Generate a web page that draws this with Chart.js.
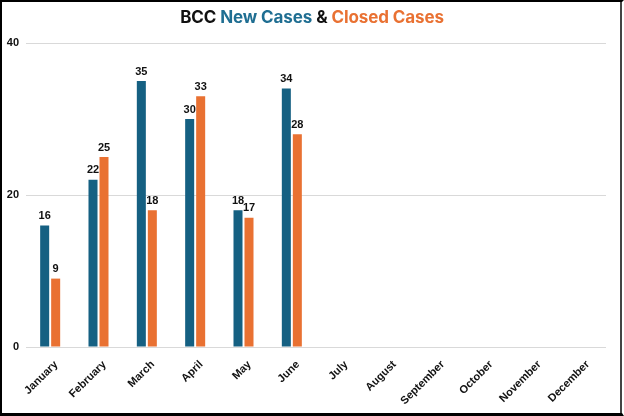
<!DOCTYPE html>
<html>
<head>
<meta charset="utf-8">
<script src="https://cdn.jsdelivr.net/npm/chart.js@4/dist/chart.umd.min.js"></script>
<style>
    html, body { margin: 0; padding: 0; background: #fff; }
    #wrap { position: relative; width: 624px; height: 416px; overflow: hidden; }
    #chart { position: absolute; left: 0; top: 0; }
    #title {
        position: absolute; left: 0; top: 7px; width: 624px;
        text-align: center; font: bold 17px Inter, sans-serif; color: #111;
        letter-spacing: -0.1px;
    }
    #title .new { color: #1f6e92; }
    #title .closed { color: #e97132; }
    #frame {
        position: absolute; left: 0; top: 0; width: 624px; height: 416px;
        box-sizing: border-box; pointer-events: none;
        border-top: 2px solid #000; border-left: 2px solid #000;
        border-bottom: 3px solid #000; border-right: 2px solid #fff;
    }
    #frame::after {
        content: ''; position: absolute; right: 0; top: 0; bottom: 0;
        width: 2px; background: #444;
    }
</style>
</head>
<body>
<div id="wrap">
    <canvas id="chart" width="624" height="416"></canvas>
    <div id="title">BCC <span class="new">New Cases</span> &amp; <span class="closed">Closed Cases</span></div>
    <div id="frame"></div>
</div>
<script>
// Chart data
const months = ['January', 'February', 'March', 'April', 'May', 'June',
    'July', 'August', 'September', 'October', 'November', 'December'];
const newCases = [16, 22, 35, 30, 18, 34, null, null, null, null, null, null];
const closedCases = [9, 25, 18, 33, 17, 28, null, null, null, null, null, null];
const yTicks = [0, 20, 40];

const labelFont = 'bold 11px "Liberation Sans", Arial, sans-serif';

// Draw the value above each bar
const barValues = {
    id: 'barValues',
    afterDatasetsDraw(chart) {
        const ctx = chart.ctx;
        ctx.save();
        ctx.font = labelFont;
        ctx.fillStyle = '#111';
        ctx.textAlign = 'center';
        ctx.textBaseline = 'bottom';
        chart.data.datasets.forEach((ds, i) => {
            const meta = chart.getDatasetMeta(i);
            meta.data.forEach((bar, j) => {
                const v = ds.data[j];
                if (v === null || v === undefined) return;
                ctx.fillText(String(v), bar.x, bar.y - 4);
            });
        });
        ctx.restore();
    }
};

const ctx = document.getElementById('chart').getContext('2d');
new Chart(ctx, {
    type: 'bar',
    data: {
        labels: months,
        datasets: [{
            label: 'New Cases',
            data: newCases,
            backgroundColor: '#156082',
            categoryPercentage: 0.455,
            barPercentage: 0.82
        }, {
            label: 'Closed Cases',
            data: closedCases,
            backgroundColor: '#e97132',
            categoryPercentage: 0.455,
            barPercentage: 0.82
        }]
    },
    options: {
        responsive: false,
        animation: false,
        layout: { padding: { top: 43, right: 18, left: 0, bottom: 0 } },
        plugins: {
            legend: { display: false },
            title: { display: false },
            tooltip: { enabled: false }
        },
        scales: {
            x: {
                grid: { display: false },
                border: { display: false },
                ticks: {
                    minRotation: 45,
                    maxRotation: 45,
                    padding: 3,
                    labelOffset: 6,
                    color: '#111',
                    font: { family: '"Liberation Sans", Arial, sans-serif', size: 11, weight: 'bold' }
                },
                afterFit: function (scale) { scale.height = 69; }
            },
            y: {
                min: 0,
                max: 40,
                afterBuildTicks: function (scale) {
                    scale.ticks = yTicks.map(v => ({ value: v }));
                },
                grid: { color: '#d9d9d9', drawTicks: false },
                border: { display: false },
                ticks: {
                    padding: 7,
                    color: '#111',
                    font: { family: '"Liberation Sans", Arial, sans-serif', size: 11, weight: 'bold' }
                },
                afterFit: function (scale) { scale.width = 26; }
            }
        }
    },
    plugins: [barValues]
});
</script>
</body>
</html>
